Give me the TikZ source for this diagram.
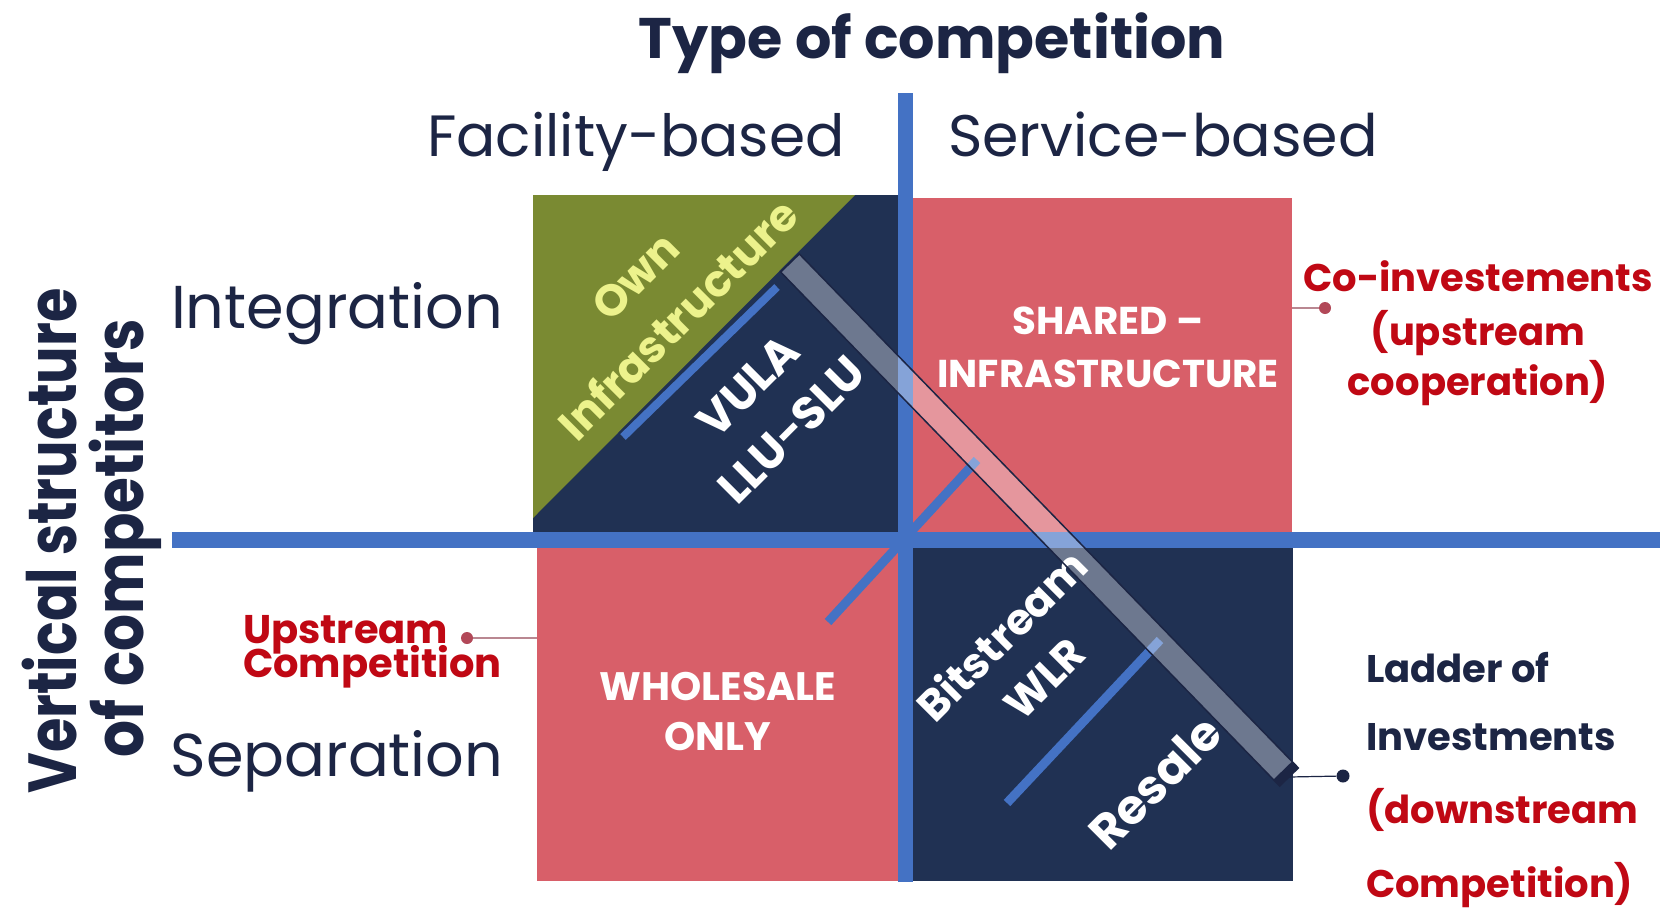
\documentclass[tikz,border=0pt]{standalone}
\usepackage{graphicx}
\usepackage{fontspec}
\setmainfont{Poppins}
\usetikzlibrary{calc}
\definecolor{navybox}{RGB}{32,49,83}
\definecolor{pinkbox}{RGB}{216,95,105}
\definecolor{lineblue}{RGB}{68,114,196}
\definecolor{olivebox}{RGB}{122,138,50}
\definecolor{yellowtxt}{RGB}{236,242,140}
\definecolor{redtxt}{RGB}{192,8,20}
\definecolor{navytxt}{RGB}{28,37,68}
\definecolor{pinkdot}{RGB}{178,72,88}
\definecolor{pinkline}{RGB}{185,135,145}
\newcommand{\fsz}[2]{\fontsize{#1}{#2}\selectfont}
\begin{document}
\begin{tikzpicture}[x=1pt,y=-1pt,
  quad/.style={inner sep=0pt, outer sep=0pt, draw=none, rectangle},
  axisline/.style={draw=lineblue, line width=15pt},
  diagline/.style={draw=lineblue, line width=9pt},
  lbl/.style={inner sep=0pt, outer sep=0pt, text=navytxt},
  redlbl/.style={inner sep=0pt, outer sep=0pt, text=redtxt, font=\bfseries\fsz{38.5}{48}},
  boxtxt/.style={inner sep=0pt, text=white, align=center, font=\bfseries\fsz{38.8}{53}},
  dot/.style={circle, inner sep=0pt, minimum size=12pt, fill=pinkdot},
  navydot/.style={circle, inner sep=0pt, minimum size=13pt, fill=navytxt},
  pinkconn/.style={draw=pinkline, line width=1.2pt},
  navyconn/.style={draw=navytxt, line width=1.2pt},
]
\useasboundingbox (0,0) rectangle (1660,908);
\fill[white] (0,0) rectangle (1660,908);

% quadrants
\node[quad, fill=navybox, minimum width=372pt, minimum height=345pt] (tl) at (719,367.5) {};
\node[quad, fill=pinkbox, minimum width=387pt, minimum height=342pt] (tr) at (1098.5,369) {};
\node[quad, fill=pinkbox, minimum width=368pt, minimum height=341pt] (bl) at (721,710.5) {};
\node[quad, fill=navybox, minimum width=388pt, minimum height=341pt] (br) at (1099,710.5) {};
\fill[olivebox] (tl.north west) -- (855,195) -- (533,518) -- cycle;

% connectors
\node[dot] (updot) at (467,638) {};
\draw[pinkconn] (updot) -- (updot -| bl.west);
\node[dot] (codot) at (1325,308) {};
\draw[pinkconn] (codot) -- (codot -| tr.east);
\coordinate (bandA) at (790,263);
\coordinate (bandB) at (1289,777);
\node[navydot] (ladot) at (1343,776) {};
\draw[navyconn] (bandB) -- (ladot);

% axes
\draw[axisline, line width=16pt] (172,540) -- (1660,540);
\draw[axisline] (905,93) -- (905,882);
\draw[diagline, line width=8pt] (623,437) -- (777,287);
\draw[diagline] (828,622) -- (977,460);
\draw[diagline] (1007,803) -- (1160,640);

% headings
\node[lbl, anchor=base, font=\bfseries\fsz{57.2}{60}] (title) at (932,58) {Type of competition};
\node[lbl, anchor=base, font=\fsz{58.2}{70}] (fac) at (636,156) {Facility-based};
\node[lbl, anchor=base, font=\fsz{58.6}{70}] (srv) at (1163,156) {Service-based};
\node[lbl, anchor=base, font=\fsz{60.5}{70}] (integ) at (337,328) {Integration};
\node[lbl, anchor=base, font=\fsz{60.5}{70}] (sepa) at (337,776) {Separation};
\node[lbl, anchor=base, rotate=90, font=\bfseries\fsz{68}{70}] (vert1) at (76,541) {\scalebox{0.82}[1]{Vertical structure}};
\node[lbl, anchor=base, rotate=90, font=\bfseries\fsz{68}{70}] (vert2) at (143,538) {\scalebox{0.855}[1]{of competitors}};

% quadrant texts
\node[boxtxt] (shared) at (1108,347) {SHARED –\\INFRASTRUCTURE};
\node[boxtxt, font=\bfseries\fsz{39.7}{50}] (whole) at (718,711) {WHOLESALE\\ONLY};
\node[inner sep=0pt, rotate=45, text=yellowtxt, align=center, font=\bfseries\fsz{44}{61}] (own) at (657,298) {Own\\Infrastructure};
\node[inner sep=0pt, rotate=45, text=white, align=center, font=\bfseries\fsz{46}{62}] (vula) at (770,408) {VULA\\LLU-SLU};
\node[inner sep=0pt, rotate=45, text=white, align=center, font=\bfseries\fsz{43}{60}] (bit) at (1022,656) {Bitstream\\WLR};
\node[inner sep=0pt, rotate=45, text=white, font=\bfseries\fsz{48}{60}] (resale) at (1155,782) {Resale};

% side labels
\node[redlbl, anchor=base west, font=\bfseries\fsz{40}{34}] (up1) at (243,643) {Upstream};
\node[redlbl, anchor=base west, font=\bfseries\fsz{40}{34}] (up2) at (243,677) {Competition};
\node[redlbl, anchor=base] (co1) at (1478,291) {Co-investements};
\node[redlbl, anchor=base] (co2) at (1478,345) {(upstream};
\node[redlbl, anchor=base] (co3) at (1478,395) {cooperation)};
\node[redlbl, anchor=base west, text=navytxt] (la1) at (1366,682) {Ladder of};
\node[redlbl, anchor=base west, text=navytxt] (la2) at (1366,750) {Investments};
\node[redlbl, anchor=base west] (la3) at (1366,823) {(downstream};
\node[redlbl, anchor=base west] (la4) at (1366,897) {Competition)};

% ladder band
\fill[white, fill opacity=0.35] ($(bandA)!13pt!90:(bandB)$) -- ($(bandB)!13pt!-90:(bandA)$) -- ($(bandB)!13pt!90:(bandA)$) -- ($(bandA)!13pt!-90:(bandB)$) -- cycle;
\coordinate (bandC) at ($(bandB)!9pt!(bandA)$);
\fill[navytxt] ($(bandC)!13pt!90:(bandB)$) -- ($(bandB)!13pt!-90:(bandC)$) -- ($(bandB)!13pt!90:(bandC)$) -- ($(bandC)!13pt!-90:(bandB)$) -- cycle;
\draw[navytxt, line width=1.5pt] ($(bandA)!13pt!90:(bandB)$) -- ($(bandB)!13pt!-90:(bandA)$) -- ($(bandB)!13pt!90:(bandA)$) -- ($(bandA)!13pt!-90:(bandB)$) -- cycle;
\end{tikzpicture}
\end{document}
